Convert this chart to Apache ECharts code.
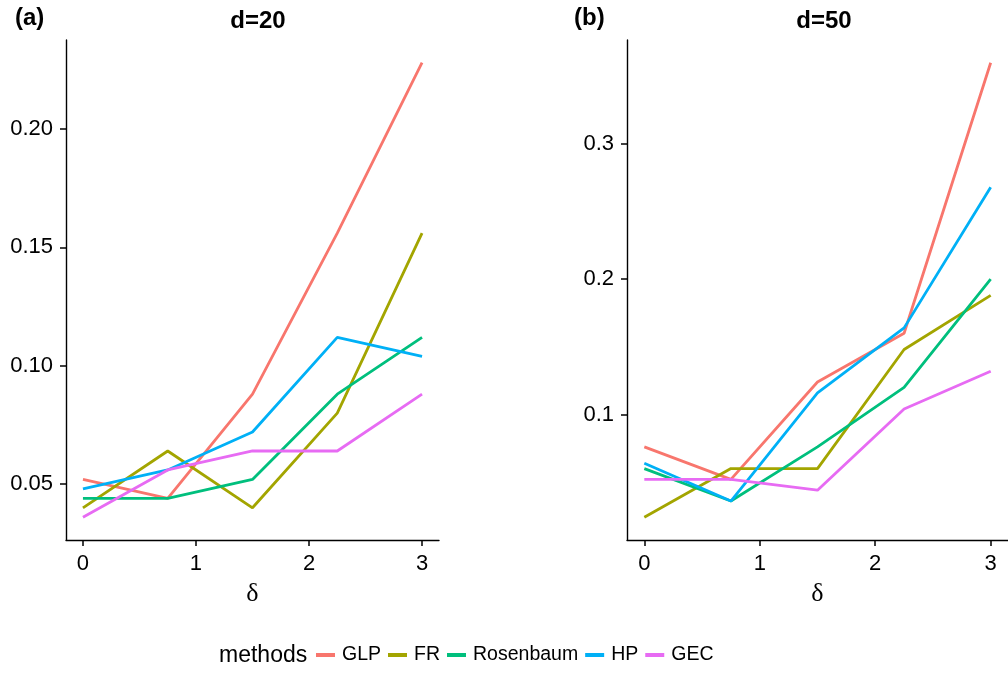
<!DOCTYPE html>
<html>
<head>
<meta charset="utf-8">
<script src="https://cdn.jsdelivr.net/npm/echarts@6/dist/echarts.min.js"></script>
<style>
html,body{margin:0;padding:0;background:#fff;}
#chart{width:1008px;height:673px;}
</style>
</head>
<body>
<div id="chart"></div>
<script>
// ---- data ----
var methods = ['GLP', 'FR', 'Rosenbaum', 'HP', 'GEC'];
var colors = ['#F8766D', '#A3A500', '#00BF7D', '#00B0F6', '#E76BF3'];
var deltas = [0, 0.75, 1.5, 2.25, 3];

// panel (a) d=20
var a_GLP = [0.052, 0.044, 0.088, 0.156, 0.228];
var a_FR = [0.040, 0.064, 0.040, 0.080, 0.156];
var a_Rosenbaum = [0.044, 0.044, 0.052, 0.088, 0.112];
var a_HP = [0.048, 0.056, 0.072, 0.112, 0.104];
var a_GEC = [0.036, 0.056, 0.064, 0.064, 0.088];

// panel (b) d=50
var b_GLP = [0.076, 0.052, 0.124, 0.160, 0.360];
var b_FR = [0.024, 0.060, 0.060, 0.148, 0.188];
var b_Rosenbaum = [0.060, 0.036, 0.076, 0.120, 0.200];
var b_HP = [0.064, 0.036, 0.116, 0.164, 0.268];
var b_GEC = [0.052, 0.052, 0.044, 0.104, 0.132];

var xTicks = [0, 1, 2, 3];
var aTicks = [0.05, 0.10, 0.15, 0.20];
var bTicks = [0.1, 0.2, 0.3];

var panelA = [a_GLP, a_FR, a_Rosenbaum, a_HP, a_GEC];
var panelB = [b_GLP, b_FR, b_Rosenbaum, b_HP, b_GEC];

function pairs(ys) {
  return deltas.map(function (x, i) { return [x, ys[i]]; });
}
function expandRange(arrs) {
  var all = [].concat.apply([], arrs);
  var lo = Math.min.apply(null, all), hi = Math.max.apply(null, all);
  var pad = (hi - lo) * 0.05;
  return [lo - pad, hi + pad];
}
var xr = [deltas[0] - 0.05 * (deltas[4] - deltas[0]), deltas[4] + 0.05 * (deltas[4] - deltas[0])];
var ar = expandRange(panelA);
var br = expandRange(panelB);

var FONT = '"Liberation Sans", Arial, Helvetica, sans-serif';

function xAxis(gi) {
  return {
    type: 'value', gridIndex: gi, min: xr[0], max: xr[1],
    name: 'δ', nameLocation: 'middle', nameGap: 41,
    nameTextStyle: { fontFamily: '"Liberation Serif", "DejaVu Serif", serif', fontSize: 26, color: '#000' },
    splitLine: { show: false },
    axisLine: { show: true, onZero: false, lineStyle: { color: '#000', width: 1.4 } },
    axisTick: { show: true, inside: false, length: 6, lineStyle: { color: '#000', width: 1.5 }, customValues: xTicks },
    axisLabel: { show: true, customValues: xTicks, color: '#000', fontSize: 22, fontFamily: FONT, margin: 13,
      formatter: function (v) { return String(Math.round(v)); } }
  };
}
function yAxis(gi, r, ticks, dec) {
  return {
    type: 'value', gridIndex: gi, min: r[0], max: r[1],
    splitLine: { show: false },
    axisLine: { show: true, onZero: false, lineStyle: { color: '#000', width: 1.4 } },
    axisTick: { show: true, inside: false, length: 6, lineStyle: { color: '#000', width: 1.5 }, customValues: ticks },
    axisLabel: { show: true, customValues: ticks, color: '#000', fontSize: 22, fontFamily: FONT, margin: 13,
      formatter: function (v) { return v.toFixed(dec); } }
  };
}

var series = [];
methods.forEach(function (m, i) {
  series.push({ name: m, type: 'line', xAxisIndex: 0, yAxisIndex: 0, data: pairs(panelA[i]),
    showSymbol: false, symbol: 'none', lineStyle: { width: 2.8, color: colors[i] }, itemStyle: { color: colors[i] },
    animation: false, silent: true });
  series.push({ name: m, type: 'line', xAxisIndex: 1, yAxisIndex: 1, data: pairs(panelB[i]),
    showSymbol: false, symbol: 'none', lineStyle: { width: 2.8, color: colors[i] }, itemStyle: { color: colors[i] },
    animation: false, silent: true });
});

var chart = echarts.init(document.getElementById('chart'), null, { renderer: 'canvas' });
chart.setOption({
  backgroundColor: '#fff',
  animation: false,
  title: [
    { text: '(a)', left: 10, top: 1, textStyle: { fontFamily: FONT, fontWeight: 'bold', fontSize: 24, color: '#000' } },
    { text: 'd=20', left: 253, top: 4, textAlign: 'center', textStyle: { fontFamily: FONT, fontWeight: 'bold', fontSize: 24, color: '#000' } },
    { text: '(b)', left: 569, top: 1, textStyle: { fontFamily: FONT, fontWeight: 'bold', fontSize: 24, color: '#000' } },
    { text: 'd=50', left: 819, top: 4, textAlign: 'center', textStyle: { fontFamily: FONT, fontWeight: 'bold', fontSize: 24, color: '#000' } },
    { text: 'methods', left: 214, top: 639, textStyle: { fontFamily: FONT, fontWeight: 'normal', fontSize: 23, color: '#000' } }
  ],
  legend: {
    data: methods, left: 311, top: 640, orient: 'horizontal',
    icon: 'rect', itemWidth: 19, itemHeight: 4, itemGap: 7,
    textStyle: { fontFamily: FONT, fontSize: 19.5, color: '#000', padding: [0, 0, 0, 2] },
    selectedMode: false
  },
  grid: [
    { left: 66, top: 40, width: 373, height: 500, containLabel: false },
    { left: 627, top: 40, width: 385, height: 500, containLabel: false }
  ],
  xAxis: [xAxis(0), xAxis(1)],
  yAxis: [yAxis(0, ar, aTicks, 2), yAxis(1, br, bTicks, 1)],
  series: series
});
</script>
</body>
</html>
